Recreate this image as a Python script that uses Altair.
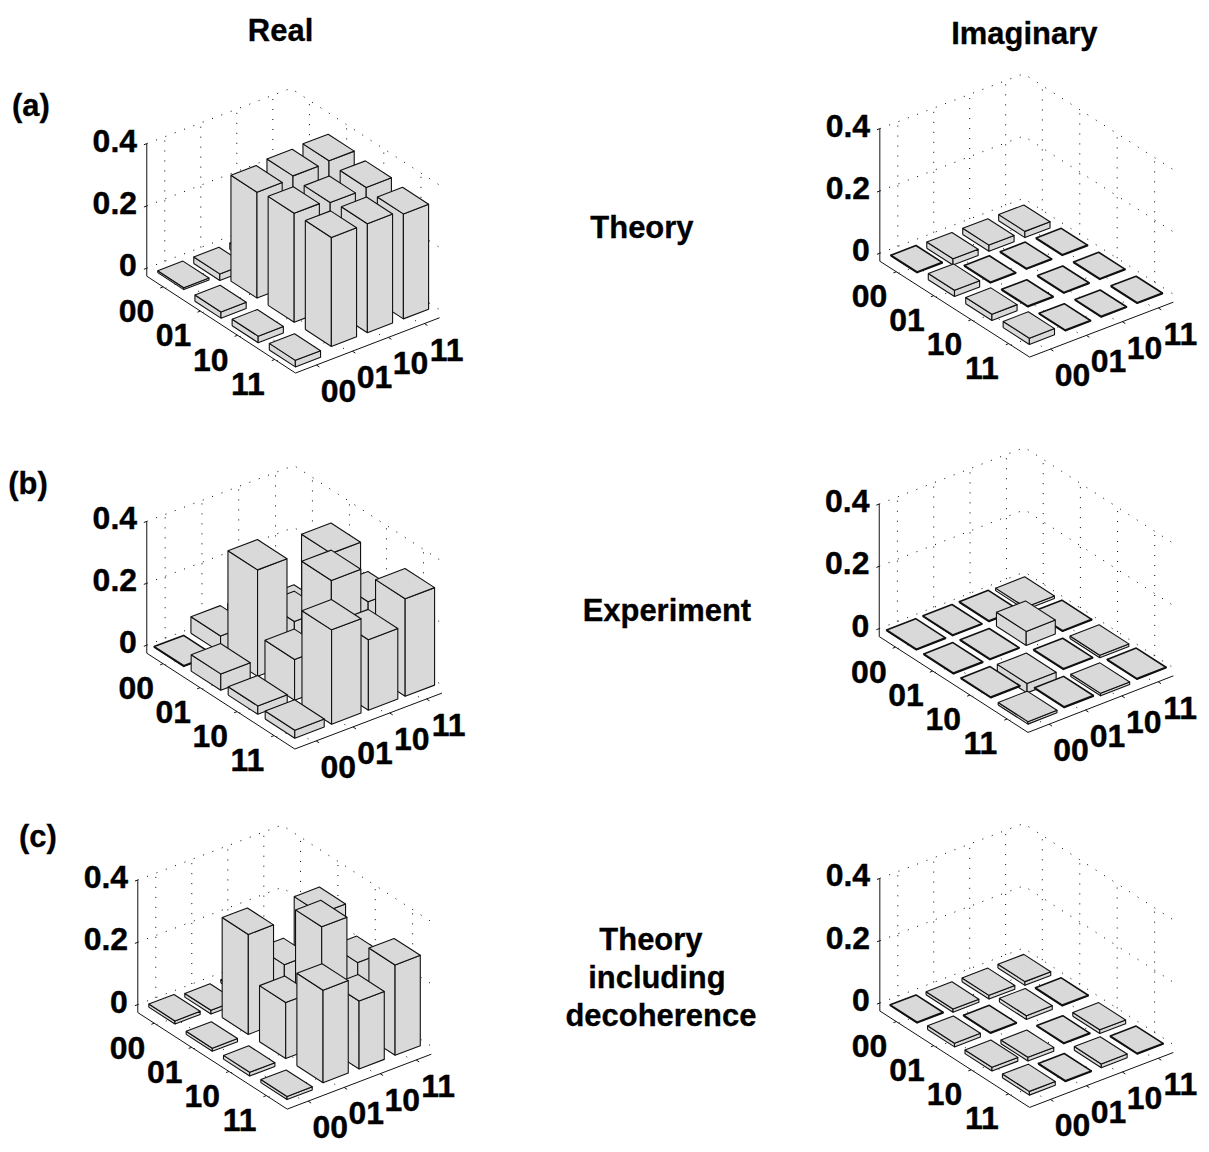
import altair as alt
import pandas as pd

FONT = "Liberation Sans"
BIT_LABELS = ["00", "01", "10", "11"]
Z_TICKS = [0, 0.2, 0.4]
Z_LABELS = ["0", "0.2", "0.4"]

real_a = [[-.006, -.021, -.02, -.02], [-.02, .34, .348, .352], [-.021, .35, .34, .344], [-.021, .35, .35, .337]]
imag_a = [[.002, -.02, -.02, -.02], [.02, .002, .002, .002], [.02, .002, .002, .002], [.02, .002, .002, .002]]
real_b = [[.002, .053, .05, .03], [.053, .344, .132, .307], [.027, .132, .342, .228], [.026, .305, .228, .315]]
imag_b = [[.002, .002, .002, -.008], [.002, .002, .045, .002], [.002, -.03, .002, -.008], [-.008, .002, -.008, .002]]
real_c = [[.01, -.012, -.01, -.01], [-.01, .321, .18, .30], [-.012, .18, .379, .22], [-.01, .297, .218, .29]]
imag_c = [[.002, -.01, -.012, -.012], [.012, .002, .012, .002], [.012, -.012, .002, -.012], [.012, .002, .012, .002]]

# name, heights, left corner, bottom corner, right corner, px per unit z, bar width
panels = [
    ("ra", real_a, (145, 275.7), (294, 372.7), (438.3, 317.3), 312, .70),
    ("ia", imag_a, (879.3, 260.7), (1029.3, 356.7), (1173.3, 301.7), 312, .70),
    ("rb", real_b, (145, 653.3), (293.3, 749.3), (440.7, 693.3), 310, .80),
    ("ib", imag_b, (878.7, 636.7), (1027.7, 732.7), (1173.3, 676), 312, .80),
    ("rc", real_c, (136, 1013.3), (285.7, 1110), (430, 1055), 312, .70),
    ("ic", imag_c, (879.3, 1011.7), (1029.3, 1108.3), (1173.3, 1053.3), 312, .72),
]

headings = [
    ("Real", 279, 31.5), ("Imaginary", 1024, 34.5), ("(a)", 29, 106.5), ("(b)", 26, 484.5), ("(c)", 36, 838.5),
    ("Theory", 641, 228.5), ("Experiment", 666, 612.5), ("Theory", 650, 941.5),
    ("including", 656, 979.5), ("decoherence", 660, 1017.5),
]

polys, dots, solids, tick_texts, head_texts = [], [], [], [], []
pid = 0


def add(rows, pts, sw=1.1):
    global pid
    pid += 1
    for k, (x, y) in enumerate(pts):
        rows.append({"id": pid, "k": k, "x": x - 8, "y": y - 8, "sw": sw})


for name, H, L, B, R, zs, w in panels:
    u = ((B[0] - L[0]) / 4, (B[1] - L[1]) / 4)
    v = ((R[0] - B[0]) / 4, (R[1] - B[1]) / 4)

    def P(a, b, z=0.0, off=7.0):
        return (L[0] + u[0] * a + v[0] * b, L[1] + u[1] * a + v[1] * b - off - z * zs)

    # dotted grid on the walls and floor
    for z in Z_TICKS:
        add(dots, [P(0, 0, z, 8), P(0, 4, z, 8), P(4, 4, z, 8)])
    for t in range(4):
        add(dots, [P(0, t + .5, 0, 8), P(0, t + .5, .4, 8)])
        add(dots, [P(t + .5, 4, 0, 8), P(t + .5, 4, .4, 8)])
        add(dots, [P(0, t + .5, 0, 0), P(4, t + .5, 0, 0)])
        add(dots, [P(t + .5, 0, 0, 0), P(t + .5, 4, 0, 0)])

    # solid axes and ticks
    add(solids, [P(0, 0, .4, 8), P(0, 0, 0, 0), P(4, 0, 0, 0), P(4, 4, 0, 0)])
    for z in Z_TICKS:
        add(solids, [P(0, 0, z, 8), P(0, -.08, z, 8)])
    for t in range(4):
        add(solids, [P(t + .44, 0, 0, 0), P(t + .44, -.08, 0, 0)])
        add(solids, [P(4, t + .58, 0, 0), P(4.08, t + .58, 0, 0)])

    # bars, painted from the back corner to the front corner
    m = (1 - w) / 2
    for i in range(4):
        for j in range(3, -1, -1):
            h = H[i][j]
            lo, hi = min(0, h), max(0, h)
            a0, a1, b0, b1 = i + m, i + 1 - m, j + m, j + 1 - m
            sw = 1.6 if abs(h) <= .002 else 1.1
            add(polys, [P(a0, b0, lo), P(a1, b0, lo), P(a1, b0, hi), P(a0, b0, hi), P(a0, b0, lo)], sw)
            add(polys, [P(a1, b0, lo), P(a1, b1, lo), P(a1, b1, hi), P(a1, b0, hi), P(a1, b0, lo)], sw)
            add(polys, [P(a0, b0, hi), P(a1, b0, hi), P(a1, b1, hi), P(a0, b1, hi), P(a0, b0, hi)], sw)

    # tick labels
    for t, lab in enumerate(BIT_LABELS):
        p = P(t + .5, 0, 0, 0)
        tick_texts.append({"t": lab, "x": p[0] - 29 - 8, "y": p[1] + 24 - 8})
        p = P(4, t + .5, 0, 0)
        tick_texts.append({"t": lab, "x": p[0] + 25 - 8, "y": p[1] + 26 - 8})
    for z, lab in zip(Z_TICKS, Z_LABELS):
        p = P(0, 0, z, 8)
        dx = -19 if lab == "0" else -32
        tick_texts.append({"t": lab, "x": p[0] + dx - 8, "y": p[1] - 2 - 8})

for t, x, y in headings:
    head_texts.append({"t": t, "x": x - 8, "y": y - 8})

W, Ht = 1193, 1136
X = alt.X("x:Q", scale=alt.Scale(domain=[0, W], nice=False, zero=False), axis=None)
Y = alt.Y("y:Q", scale=alt.Scale(domain=[Ht, 0], nice=False, zero=False), axis=None)

dot_layer = alt.Chart(pd.DataFrame(dots)).mark_line(
    color="black", strokeWidth=1, strokeDash=[1, 9]
).encode(x=X, y=Y, detail="id:N", order="k:Q")
axis_layer = alt.Chart(pd.DataFrame(solids)).mark_line(
    color="#111111", strokeWidth=1
).encode(x=X, y=Y, detail="id:N", order="k:Q")
bar_layer = alt.Chart(pd.DataFrame(polys)).mark_line(
    fill="#d9d9d9", stroke="#111111", strokeJoin="round"
).encode(
    x=X, y=Y, detail="id:N", order="k:Q",
    strokeWidth=alt.StrokeWidth("sw:Q", scale=None, legend=None),
)
tick_layer = alt.Chart(pd.DataFrame(tick_texts)).mark_text(
    font=FONT, fontWeight="bold", fontSize=32, color="black", stroke="black", strokeWidth=0.4,
    align="center", baseline="middle"
).encode(x=X, y=Y, text="t:N")
head_layer = alt.Chart(pd.DataFrame(head_texts)).mark_text(
    font=FONT, fontWeight="bold", fontSize=31, color="black", stroke="black", strokeWidth=0.3,
    align="center", baseline="middle"
).encode(x=X, y=Y, text="t:N")

chart = alt.layer(dot_layer, axis_layer, bar_layer, tick_layer, head_layer).properties(
    width=W, height=Ht, padding=0, background="white"
).configure_view(stroke=None)

chart.save("out.html", embed_options={"renderer": "svg", "actions": False})
